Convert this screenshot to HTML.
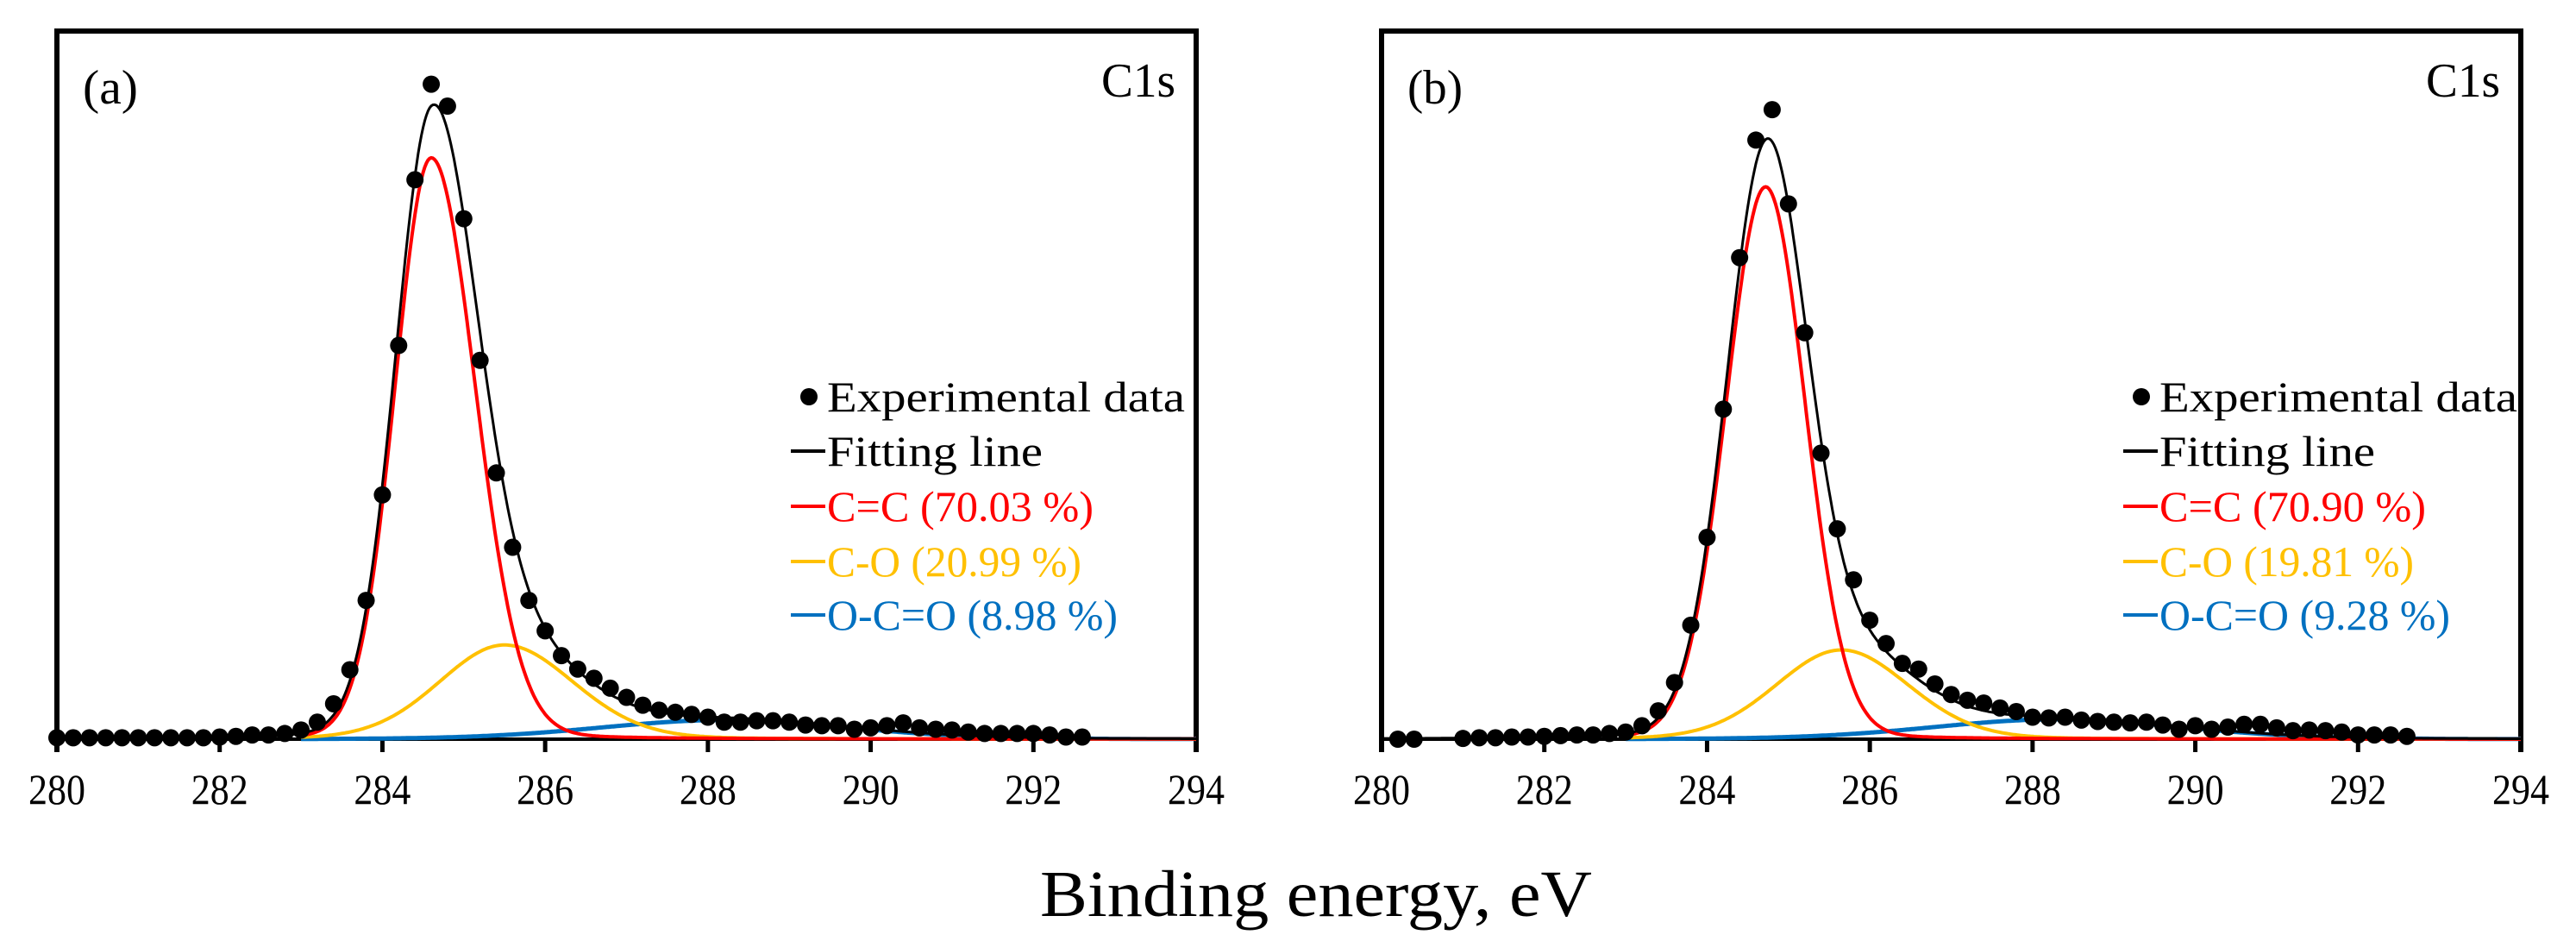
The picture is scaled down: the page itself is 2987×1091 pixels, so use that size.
<!DOCTYPE html>
<html><head><meta charset="utf-8"><style>
html,body{margin:0;padding:0;background:#fff;}
svg{display:block;font-family:"Liberation Serif",serif;}
text{font-family:"Liberation Serif",serif;}
</style></head><body>
<svg id="chart" width="2987" height="1091" viewBox="0 0 2987 1091" xmlns="http://www.w3.org/2000/svg">
<text x="1206" y="1062" font-size="76" font-family="Liberation Serif, serif" textLength="640" lengthAdjust="spacingAndGlyphs">Binding energy, eV</text>
</svg>
<script>
const xTicks = [280, 282, 284, 286, 288, 290, 292, 294];
const energyA = [280.0,280.2,280.4,280.6,280.8,281.0,281.2,281.4,281.6,281.8,282.0,282.2,282.4,282.6,282.8,283.0,283.2,283.4,283.6,283.8,284.0,284.2,284.4,284.6,284.8,285.0,285.2,285.4,285.6,285.8,286.0,286.2,286.4,286.6,286.8,287.0,287.2,287.4,287.6,287.8,288.0,288.2,288.4,288.6,288.8,289.0,289.2,289.4,289.6,289.8,290.0,290.2,290.4,290.6,290.8,291.0,291.2,291.4,291.6,291.8,292.0,292.2,292.4,292.6];
const intensityA = [0.002,0.002,0.002,0.002,0.002,0.002,0.002,0.002,0.002,0.002,0.003,0.004,0.006,0.006,0.008,0.013,0.024,0.050,0.098,0.196,0.345,0.556,0.790,0.925,0.894,0.735,0.535,0.376,0.271,0.196,0.153,0.118,0.099,0.086,0.072,0.059,0.048,0.041,0.038,0.035,0.031,0.024,0.024,0.026,0.026,0.024,0.020,0.019,0.019,0.014,0.016,0.019,0.023,0.016,0.014,0.013,0.010,0.008,0.008,0.008,0.008,0.006,0.003,0.003];
const energyB = [280.2,280.4,281.0,281.2,281.4,281.6,281.8,282.0,282.2,282.4,282.6,282.8,283.0,283.2,283.4,283.6,283.8,284.0,284.2,284.4,284.6,284.8,285.0,285.2,285.4,285.6,285.8,286.0,286.2,286.4,286.6,286.8,287.0,287.2,287.4,287.6,287.8,288.0,288.2,288.4,288.6,288.8,289.0,289.2,289.4,289.6,289.8,290.0,290.2,290.4,290.6,290.8,291.0,291.2,291.4,291.6,291.8,292.0,292.2,292.4,292.6];
const intensityB = [0.000,0.000,0.001,0.002,0.002,0.003,0.003,0.004,0.005,0.006,0.006,0.008,0.010,0.019,0.040,0.080,0.161,0.285,0.466,0.680,0.846,0.889,0.756,0.574,0.404,0.297,0.225,0.168,0.135,0.107,0.099,0.078,0.063,0.055,0.051,0.044,0.039,0.031,0.030,0.031,0.027,0.025,0.024,0.023,0.024,0.020,0.014,0.019,0.014,0.017,0.021,0.021,0.016,0.012,0.013,0.012,0.010,0.006,0.006,0.006,0.004];
// component peaks: [center eV, height, FWHM left eV, FWHM right eV]
const ccA = [284.6, 0.821, 1.05, 1.28];
const coA = [285.5, 0.133, 1.9, 2.0];
const ocoA = [288.2, 0.027, 3.6, 3.6];
const ccB = [284.72, 0.780, 1.15, 1.15];
const coB = [285.65, 0.126, 1.9, 1.95];
const ocoB = [288.3, 0.028, 3.6, 3.6];
const legendA = ["C=C (70.03 %)", "C-O (20.99 %)", "O-C=O (8.98 %)"];
const legendB = ["C=C (70.90 %)", "C-O (19.81 %)", "O-C=O (9.28 %)"];

const NS = "http://www.w3.org/2000/svg";
const svg = document.getElementById('chart');
function mk(tag, attrs, parent){const e=document.createElementNS(NS,tag);for(const k in attrs)e.setAttribute(k,attrs[k]);if(tag==='text'){e.setAttribute('font-family','Liberation Serif, serif');if(attrs.textLength)e.setAttribute('lengthAdjust','spacingAndGlyphs');}(parent||svg).appendChild(e);return e;}
function pv(x,p,eta){const w=(x<p[0]?p[2]:p[3])/2;const u=(x-p[0])/w;const g=Math.exp(-Math.LN2*u*u);const l=1/(1+u*u);return p[1]*((1-eta)*g+eta*l);}
function approxLen(t){const m={'C=C':309,'C-O':295,'O-C=O':337};for(const k of ['O-C=O','C=C','C-O'])if(t.startsWith(k))return m[k];if(t.startsWith('Exp'))return 415;return 250;}

function panel(id, x0, x1, energy, inten, cc, co, oco, leg, label, legX){
  const top=36, base=857, yTop=36;
  const xs=e=>x0+(e-280)/(294-280)*(x1-x0);
  const ys=v=>base-v*(base-yTop);
  const g=mk('g',{});
  
  
  const fr=mk('path',{d:`M${x0},872 L${x0},${top} L${x1},${top} L${x1},872`,fill:'none',stroke:'#000','stroke-width':6},g);
  
  
  const ax=mk('line',{x1:x0,x2:x1,y1:base,y2:base,stroke:'#000','stroke-width':4},g);
  
  
  xTicks.forEach(t=>{
    const tk=mk('line',{x1:xs(t),x2:xs(t),y1:base,y2:872,stroke:'#000','stroke-width':5},g);
    
    
    const tl=mk('text',{x:xs(t)-33,y:932,'font-size':50,textLength:66},g);
    tl.textContent=t;
    
    
  });
  const comps=[[oco,'#0070c0',0.1],[co,'#ffc000',0.1],[cc,'#ff0000',0.05]];
  const names=['oco-component','co-component','cc-component'];
  comps.forEach((c,i)=>{
    let d='';
    for(let e=283;e<=294.001;e+=0.02){d+=(d?'L':'M')+xs(e).toFixed(1)+','+ys(pv(e,c[0],c[2])).toFixed(1);}
    const p=mk('path',{d,fill:'none',stroke:c[1],'stroke-width':i==0?5:4},g);
    
    
  });
  let d='';
  for(let e=280;e<=294.001;e+=0.02){let v=0;comps.forEach(c=>v+=pv(e,c[0],c[2]));d+=(d?'L':'M')+xs(e).toFixed(1)+','+ys(v).toFixed(1);}
  const fit=mk('path',{d,fill:'none',stroke:'#000','stroke-width':3},g);
  
  
  energy.forEach((e,i)=>{
    const c=mk('circle',{cx:xs(e),cy:ys(inten[i]),r:10,fill:'#000'},g);
    
    
  });
  const lab=mk('text',{x:x0+30,y:120,'font-size':56,textLength:64},g);
  lab.textContent=label;
  
  
  const c1=mk('text',{x:x1-24-86,y:112,'font-size':56,textLength:86},g);
  c1.textContent='C1s';
  
  
  const rows=[460,523,587,651,713];
  const lg=mk('g',{},g);
  
  
  const dot=mk('circle',{cx:legX+21,cy:rows[0],r:10,fill:'#000'},lg);
  
  
  const texts=['Experimental data','Fitting line'].concat(leg);
  const cols=['#000','#000','#ff0000','#ffc000','#0070c0'];
  texts.forEach((t,i)=>{
    if(i>0){const l=mk('line',{x1:legX,x2:legX+40,y1:rows[i],y2:rows[i],stroke:cols[i],'stroke-width':4},lg);
      
      }
    const tx=mk('text',{x:legX+42,y:rows[i]+17,'font-size':50,fill:cols[i],textLength:approxLen(t)},lg);
    tx.textContent=t;
    
    
  });
}
panel('a',66,1387,energyA,intensityA,ccA,coA,ocoA,legendA,'(a)',917);
panel('b',1602,2923,energyB,intensityB,ccB,coB,ocoB,legendB,'(b)',2462);
</script>
</body></html>
